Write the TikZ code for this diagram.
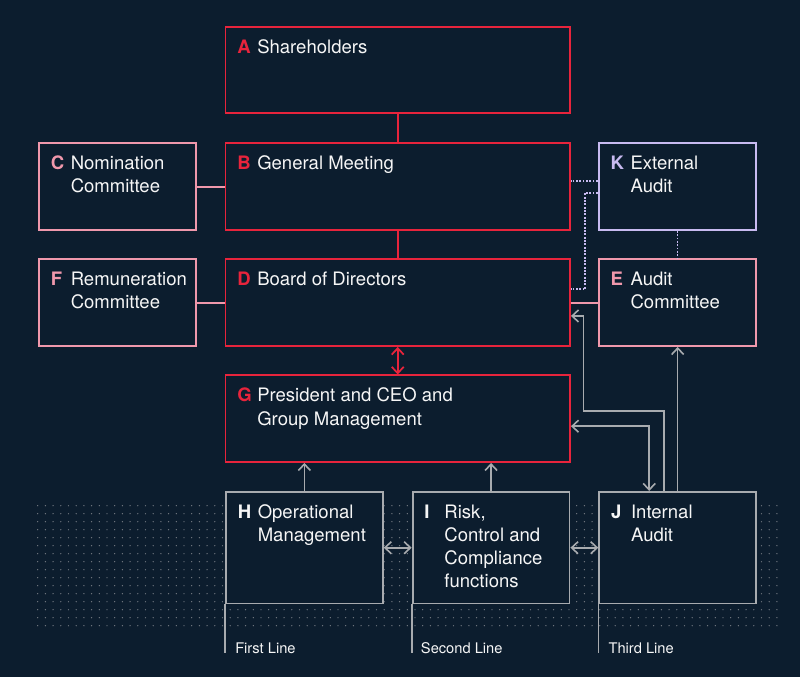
\documentclass[tikz,border=0pt]{standalone}
\usepackage{fontspec}
\setmainfont{TeX Gyre Heros}
\usepackage{xcolor}
\usetikzlibrary{arrows.meta}
\usetikzlibrary{calc}

\definecolor{navybg}{RGB}{12,29,46}
\definecolor{govred}{RGB}{232,36,60}
\definecolor{govpink}{RGB}{240,152,172}
\definecolor{govlilac}{RGB}{200,186,240}
\definecolor{govgray}{RGB}{168,171,175}
\definecolor{govdot}{RGB}{118,124,132}
\definecolor{govwhite}{RGB}{246,246,246}

\newcommand{\px}{0.75pt}

\tikzset{
  govbox/.style={draw, fill=navybg, line width=1.45pt, anchor=north west, inner sep=0pt},
  widebox/.style={govbox, minimum width=344.5*\px, minimum height=86.5*\px},
  sidebox/.style={govbox, minimum width=157.2*\px, minimum height=86.5*\px},
  linebox/.style={govbox, draw=govgray, minimum width=156.8*\px, minimum height=111.5*\px},
  boxtxt/.style={anchor=base west, inner sep=0pt, text=govwhite,
    font=\fontsize{13.9}{17.25}\selectfont},
  lettr/.style={anchor=base west, inner sep=0pt, font=\fontsize{13.9}{17.25}\selectfont\bfseries},
  linelab/.style={anchor=base west, inner sep=0pt, text=govwhite, font=\fontsize{11}{12}\selectfont},
  redline/.style={draw=govred, line width=1.3pt},
  pinkline/.style={draw=govpink, line width=1.3pt},
  grayline/.style={draw=govgray, line width=1.2pt},
  dotline/.style={draw=govlilac, line width=1.3pt, dash pattern=on 1.3pt off 1.2pt},
  >={Straight Barb[length=4.8pt,width=9pt]}
}

\begin{document}
\begin{tikzpicture}[x=\px, y=-\px]
        \newcommand{\govlabel}[4]{%
          \node[lettr, text=#3] (#1let) at ($(#1.north west)+(12.5,27.5)$) {#2};
          \node[boxtxt] (#1txt) at ($(#1.north west)+(32.5,27.5)$)
            {\begin{tabular}[t]{@{}l@{}}#4\end{tabular}};}
        % background
        \fill[navybg] (0,0) rectangle (800,677);
        % dot field behind the three lines
        \foreach \col in {0,...,96}
          \foreach \row in {0,...,15}
            \fill[govdot] (37.7+7.7*\col,505.7+8*\row) circle (0.5pt);
        % boxes
        \node[widebox, draw=govred] (A) at (224.5,26) {};
        \node[widebox, draw=govred] (B) at (224.5,142.5) {};
        \node[widebox, draw=govred] (D) at (224.5,258.5) {};
        \node[widebox, draw=govred] (G) at (224.5,374.5) {};
        \node[sidebox, draw=govpink] (C) at (38,142.5) {};
        \node[sidebox, draw=govpink] (F) at (38,258.5) {};
        \node[sidebox, draw=govlilac] (K) at (597.8,142.5) {};
        \node[sidebox, draw=govpink] (E) at (597.8,258.5) {};
        \node[linebox] (H) at (225,491) {};
        \node[linebox] (I) at (411.7,491) {};
        \node[linebox] (J) at (598.3,491) {};
        % texts
        \govlabel{A}{A}{govred}{Shareholders}
        \govlabel{B}{B}{govred}{General Meeting}
        \govlabel{D}{D}{govred}{Board of Directors}
        \govlabel{G}{G}{govred}{President and CEO and\\Group Management}
        \govlabel{C}{C}{govpink}{Nomination\\Committee}
        \govlabel{F}{F}{govpink}{Remuneration\\Committee}
        \govlabel{K}{K}{govlilac}{External\\Audit}
        \govlabel{E}{E}{govpink}{Audit\\Committee}
        \govlabel{H}{H}{govwhite}{Operational\\Management}
        \govlabel{I}{I}{govwhite}{Risk,\\Control and\\Compliance\\functions}
        \govlabel{J}{J}{govwhite}{Internal\\Audit}
        % the three lines
        \coordinate (Hfoot) at ($(H.south west)+(0,49)$);
        \coordinate (Ifoot) at ($(I.south west)+(0,49)$);
        \coordinate (Jfoot) at ($(J.south west)+(0,49)$);
        \draw[grayline] (H.south west) -- (Hfoot);
        \draw[grayline] (I.south west) -- (Ifoot);
        \draw[grayline] (J.south west) -- (Jfoot);
        \node[linelab] (firstline) at ($(Hfoot)+(10,0)$) {First Line};
        \node[linelab] (secondline) at ($(Ifoot)+(9,0)$) {Second Line};
        \node[linelab] (thirdline) at ($(Jfoot)+(10,0)$) {Third Line};
        % red spine
        \draw[redline] (A) -- (B);
        \draw[redline] (B) -- (D);
        \draw[redline, <->] (D) -- (G);
        % committees
        \draw[pinkline] (C) -- (B);
        \draw[pinkline] (F) -- (D);
        \draw[pinkline] (E) -- (D);
        % external audit
        \draw[dotline] ($(K.west)+(0,-5.75)$) -- ($(B.east)+(0,-5.75)$);
        \coordinate (KDbend) at ($(D.east)+(14.3,-13.4)$);
        \draw[dotline] ($(K.west)+(0,6)$) -| (KDbend) -- ($(D.east)+(0,-13.4)$);
        \draw[dotline] (K) -- (K |- E.north);
        % internal audit reporting
        \coordinate (JDbend) at (583.3,411);
        \draw[grayline, ->] ($(J.north)+(-13.4,0)$) |- (JDbend) |- ($(D.east)+(0,13.25)$);
        \draw[grayline, <->] ($(G.east)+(0,7.5)$) -| ($(J.north)+(-28.45,0)$);
        \draw[grayline, ->] (J.north) -- (J.north |- E.south);
        % the lines report upward and sideways
        \draw[grayline, ->] (H.north) -- (H.north |- G.south);
        \draw[grayline, ->] (I.north) -- (I.north |- G.south);
        \draw[grayline, <->] (H.east) -- (I.west);
        \draw[grayline, <->] (I.east) -- (J.west);
\end{tikzpicture}
\end{document}
